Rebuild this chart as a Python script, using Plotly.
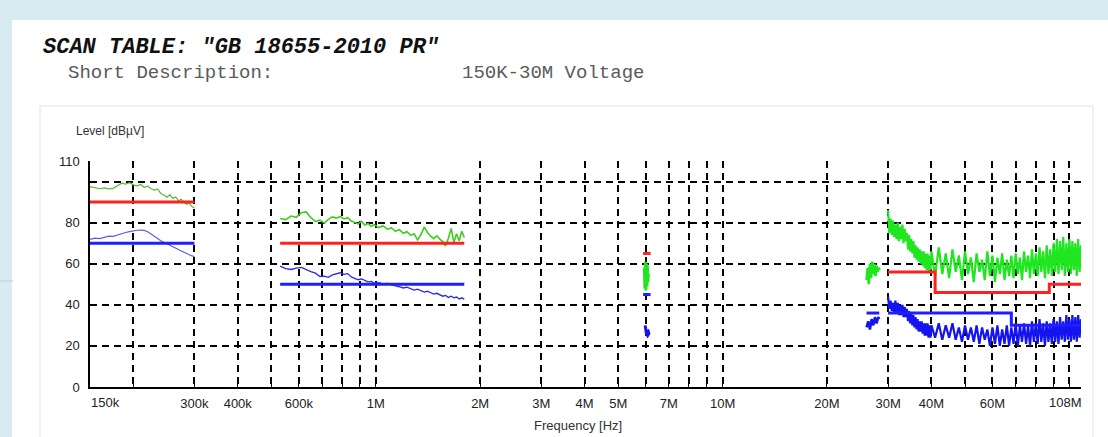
import plotly.graph_objects as go
import math

# ---------------- data (frequencies in MHz, levels in dBµV) ----------------
f_a = [0.150, 0.155, 0.160, 0.165, 0.170, 0.175, 0.180, 0.185, 0.190, 0.195, 0.200,
       0.205, 0.210, 0.215, 0.220, 0.225, 0.230, 0.235, 0.240, 0.245, 0.250, 0.255,
       0.260, 0.265, 0.270, 0.275, 0.280, 0.285, 0.290, 0.295, 0.300]
peak_a = [97.5, 96.8, 96.5, 96.9, 96.4, 96.7, 97.8, 99.2, 98.8, 99.5, 98.4,
          97.9, 98.6, 97.2, 97.8, 96.5, 95.8, 96.4, 94.2, 93.5, 92.4, 93.6,
          91.8, 92.5, 90.6, 91.4, 89.8, 88.9, 89.5, 87.8, 87.2]
avg_a = [71.8, 72.5, 72.2, 73.0, 73.4, 73.3, 74.0, 74.6, 75.2, 75.6, 76.0,
         76.3, 76.4, 76.2, 75.6, 74.6, 73.4, 72.3, 71.2, 70.4, 69.6, 68.9,
         68.2, 67.6, 66.9, 66.2, 65.6, 65.0, 64.3, 63.8, 63.5]

f_b = [0.53, 0.55, 0.57, 0.59, 0.61, 0.63, 0.65, 0.67, 0.69, 0.71, 0.73, 0.75, 0.77,
       0.79, 0.81, 0.83, 0.85, 0.87, 0.89, 0.91, 0.93, 0.95, 0.97, 0.99, 1.02, 1.05,
       1.08, 1.11, 1.14, 1.17, 1.20, 1.23, 1.26, 1.29, 1.32, 1.35, 1.38, 1.41, 1.44,
       1.47, 1.50, 1.53, 1.56, 1.59, 1.62, 1.65, 1.68, 1.71, 1.74, 1.77, 1.80]
peak_b = [82.0, 81.5, 83.2, 82.6, 84.8, 85.2, 82.4, 80.6, 81.2, 79.8, 81.6, 82.8, 82.2,
          83.0, 81.8, 82.4, 80.8, 80.2, 79.4, 80.6, 78.8, 79.6, 78.2, 79.0, 77.6, 78.4,
          76.8, 77.4, 75.8, 76.6, 74.8, 75.6, 73.8, 74.6, 71.6, 74.2, 77.8, 75.2, 73.4,
          72.2, 73.6, 72.0, 70.8, 68.6, 72.4, 77.2, 70.4, 74.6, 71.2, 75.8, 72.8]
avg_b = [58.8, 57.6, 57.2, 57.9, 58.2, 57.0, 56.2, 55.4, 53.8, 54.0, 53.4, 54.6, 55.0,
         55.6, 54.8, 55.2, 53.6, 52.8, 52.2, 52.6, 51.8, 51.2, 51.4, 50.6, 50.8, 50.2,
         50.4, 49.6, 49.2, 48.8, 48.2, 48.6, 47.8, 47.2, 47.6, 46.8, 46.2, 46.6, 45.8,
         45.2, 45.6, 44.8, 44.2, 44.6, 43.6, 44.2, 43.4, 43.8, 42.8, 43.4, 42.8]

f_c = [5.95, 5.97, 5.99, 6.01, 6.03, 6.05, 6.07, 6.09, 6.11]
peak_c = [58, 48, 61, 47, 60, 49, 59, 51, 55]
f_c_avg = [5.98, 6.03, 6.08, 6.13, 6.08]
avg_c = [30, 26, 25, 26, 28]

f_d = [26.0, 26.2, 26.4, 26.6, 26.8, 27.0, 27.2, 27.4, 27.6, 27.8, 28.0, 28.2, 28.4]
peak_d = [52, 58, 50, 60, 53, 61, 55, 60, 54, 59, 56, 58, 57]
f_d_avg = [26.0, 26.3, 26.6, 26.9, 27.2, 27.5, 27.8, 28.1, 28.3]
avg_d = [29, 32, 28, 33, 30, 34, 31, 34, 33]

f_e = [30.0, 30.25, 30.5, 30.75, 31.0, 31.25, 31.5, 31.75, 32.0, 32.25, 32.5, 32.75,
       33.0, 33.25, 33.5, 33.75, 34.0, 34.25, 34.5, 34.75, 35.0, 35.25, 35.5, 35.75,
       36.0, 36.25, 36.5, 36.75, 37.0, 37.25, 37.5, 37.75, 38.0, 38.25, 38.5, 38.75,
       39.0, 39.25, 39.5, 39.75, 40.0,
       41, 42, 43, 44, 45, 46, 47, 48, 49, 50, 51, 52, 53, 54, 55, 56, 57, 58, 59, 60,
       61, 62, 63, 64, 65, 66, 67, 68, 69, 70, 71, 72, 73, 74, 75, 76, 77, 78, 79, 80,
       81, 82, 83, 84, 85, 86, 87, 88, 89, 90, 91, 92, 93, 94, 95, 96, 97, 98, 99, 100,
       101, 102, 103, 104, 105, 106, 107, 108]
peak_e = [86, 75, 82, 74, 81, 73, 79, 72, 80, 71, 78, 72, 79, 70, 77, 71, 75, 67, 74, 66,
          72, 65, 71, 63, 69, 62, 68, 61, 67, 60, 66, 59, 66, 58, 65, 57, 65, 56, 64, 57, 66,
          54, 68, 55, 65, 53, 67, 56, 64, 52, 66, 55, 63, 51, 65, 56, 62, 52, 66, 54, 64,
          51, 63, 55, 65, 52, 62, 54, 64, 53, 65, 55, 63, 52, 66, 56, 64, 53, 67, 55, 65,
          54, 68, 56, 66, 53, 69, 55, 67, 54, 70, 56, 72, 55, 71, 57, 73, 54, 70, 56, 72,
          55, 71, 57, 70, 54, 72, 56, 69]
avg_e = [44, 38, 42, 37, 41, 36, 42, 36, 41, 35, 40, 35, 40, 34, 39, 34, 38, 32, 37, 31,
         36, 30, 35, 29, 34, 28, 33, 27, 32, 27, 32, 26, 31, 25, 31, 25, 31, 24, 30, 24, 30,
         24, 31, 23, 30, 24, 31, 23, 29, 22, 30, 23, 29, 22, 30, 21, 29, 23, 28, 20, 29,
         21, 30, 20, 28, 21, 30, 20, 29, 21, 31, 20, 30, 22, 31, 21, 30, 20, 32, 22, 31,
         21, 33, 22, 31, 20, 32, 22, 31, 21, 33, 22, 32, 21, 34, 23, 32, 22, 35, 23, 33,
         22, 35, 23, 34, 22, 35, 24, 33]

# limit lines (None separates bands)
f_lim_qp = [0.15, 0.30, None, 0.53, 1.8, None, 5.9, 6.2, None, 30, 41, 41, 87.5, 87.5, 108]
lim_qp = [90, 90, None, 70, 70, None, 65, 65, None, 56, 56, 46, 46, 50, 50]
f_lim_av = [0.15, 0.30, None, 0.53, 1.8, None, 5.9, 6.2, None, 26.0, 28.3, None, 30, 68, 68, 108]
lim_av = [70, 70, None, 50, 50, None, 45, 45, None, 36, 36, None, 36, 36, 30, 30]

x_grid = [0.2, 0.3, 0.4, 0.5, 0.6, 0.7, 0.8, 0.9, 1, 2, 3, 4, 5, 6, 7, 8, 9, 10,
          20, 30, 40, 50, 60, 70, 80, 90, 100, 108]
x_labels = ["", "300k", "400k", "", "600k", "", "", "", "1M", "2M", "3M", "4M", "5M", "",
            "7M", "", "", "10M", "20M", "30M", "40M", "", "60M", "", "", "", "", ""]
y_grid = [0, 20, 40, 60, 80, 100, 110]
y_labels = ["0", "20", "40", "60", "80", "", "110"]

# ---------------- layout helpers ----------------
W, H = 1108, 437
PX0, PX1, PY0, PY1 = 90, 1081, 161, 387


def px(x):
    return (x - PX0) / (PX1 - PX0)


def py(y):
    return (PY1 - y) / (PY1 - PY0)


GREEN = "#1fe61f"
BLUE = "#1414f0"
RED = "#ff2020"

fig = go.Figure()


def add(x, y, color, width):
    fig.add_trace(go.Scatter(x=x, y=y, mode="lines", line=dict(color=color, width=width),
                             connectgaps=False, hoverinfo="skip", showlegend=False))


add(f_a, peak_a, "#5cb83a", 1.2)
add(f_a, avg_a, "#5c5ce6", 1.2)
add(f_b, peak_b, "#3fcc1f", 1.6)
add(f_b, avg_b, "#2a2ae0", 1.3)
add(f_c, peak_c, GREEN, 3)
add(f_c_avg, avg_c, BLUE, 3)
add(f_d, peak_d, GREEN, 2.5)
add(f_d_avg, avg_d, BLUE, 2.5)
add(f_e, peak_e, GREEN, 2.2)
add(f_e, avg_e, BLUE, 2.2)
add(f_lim_qp, lim_qp, RED, 3)
add(f_lim_av, lim_av, "#1e1eff", 3)

grid = dict(showgrid=True, gridcolor="black", gridwidth=1.5, griddash="7px,5px")

fig.update_xaxes(type="log", range=[math.log10(0.15), math.log10(108)],
                 tickmode="array", tickvals=x_grid, ticktext=x_labels,
                 showline=True, linecolor="black", linewidth=1.5,
                 ticks="inside", ticklen=4, tickcolor="black", tickwidth=1.2,
                 tickfont=dict(family="Liberation Sans", size=13, color="#222"),
                 ticklabelstandoff=4, zeroline=False, **grid)
fig.update_yaxes(range=[0, 110], tickmode="array", tickvals=y_grid, ticktext=y_labels,
                 showline=True, linecolor="black", linewidth=1.5,
                 ticks="inside", ticklen=4, tickcolor="black", tickwidth=1.2,
                 tickfont=dict(family="Liberation Sans", size=13, color="#222"),
                 ticklabelstandoff=6, zeroline=False, **grid)

shapes = [
    dict(type="rect", xref="paper", yref="paper", x0=px(12), x1=px(W + 20), y0=py(20), y1=py(H + 20),
         fillcolor="white", line=dict(width=0), layer="below"),
    dict(type="rect", xref="paper", yref="paper", x0=px(40), x1=px(1093), y0=py(106), y1=py(H + 20),
         fillcolor="white", line=dict(color="#e2e2e2", width=1), layer="below"),
    dict(type="line", xref="paper", yref="paper", x0=px(0), x1=px(13), y0=py(281), y1=py(281),
         line=dict(color="#c4ccd0", width=1), layer="below"),
]

mono = "Liberation Mono, Courier New, monospace"
sans = "Liberation Sans, Arial, sans-serif"
annotations = [
    dict(text='<b><i>SCAN TABLE: "GB 18655-2010 PR"</i></b>', x=px(41), y=py(47),
         font=dict(family=mono, size=22, color="#111"), xanchor="left", yanchor="middle"),
    dict(text="Short Description:", x=px(66), y=py(73),
         font=dict(family=mono, size=19, color="#5a5a5a"), xanchor="left", yanchor="middle"),
    dict(text="150K-30M Voltage", x=px(460), y=py(73),
         font=dict(family=mono, size=19, color="#5a5a5a"), xanchor="left", yanchor="middle"),
    dict(text="Level [dBµV]", x=px(74), y=py(131),
         font=dict(family=sans, size=12, color="#333"), xanchor="left", yanchor="middle"),
    dict(text="Frequency [Hz]", x=px(578), y=py(425),
         font=dict(family=sans, size=13, color="#333"), xanchor="center", yanchor="middle"),
    dict(text="150k", x=px(89), y=py(402),
         font=dict(family=sans, size=13, color="#222"), xanchor="left", yanchor="middle"),
    dict(text="108M", x=px(1084), y=py(402),
         font=dict(family=sans, size=13, color="#222"), xanchor="right", yanchor="middle"),
]
for a in annotations:
    a.update(xref="paper", yref="paper", showarrow=False)

fig.update_layout(width=W, height=H, autosize=False,
                  margin=dict(l=PX0, r=W - PX1, t=PY0, b=H - PY1, pad=0),
                  paper_bgcolor="#d8ebf3", plot_bgcolor="rgba(0,0,0,0)",
                  shapes=shapes, annotations=annotations, showlegend=False)

fig.write_html("out.html", config={"displayModeBar": False})
